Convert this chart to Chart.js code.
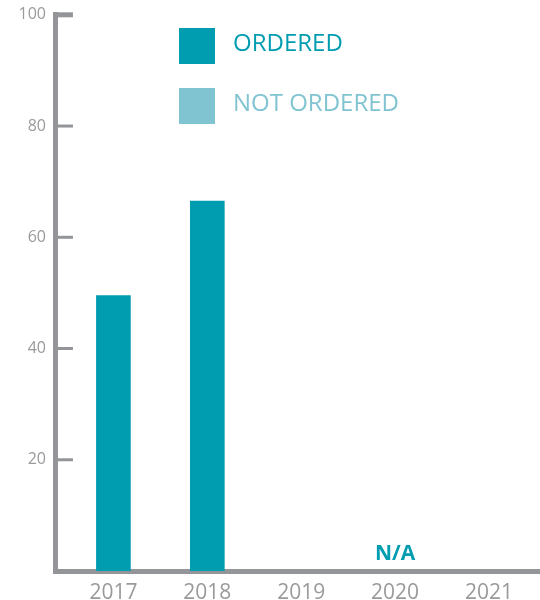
<!DOCTYPE html>
<html>
<head>
<meta charset="utf-8">
<script src="https://cdn.jsdelivr.net/npm/chart.js@4/dist/chart.umd.min.js"></script>
<style>
  html, body { margin: 0; padding: 0; background: #fff; }
  #wrap { position: relative; width: 540px; height: 600px; }
  .legend { position: absolute; left: 179px; font-family: "Open Sans", sans-serif; font-size: 24px; }
  .legend div { display: flex; align-items: center; height: 36px; margin-bottom: 24px; }
  .legend span.box { width: 36px; height: 36px; margin-right: 18px; }
  .legend span.txt { position: relative; top: -5px; }
</style>
</head>
<body>
<div id="wrap">
  <canvas id="chart" width="540" height="600"></canvas>
  <div class="legend" style="top:28px">
    <div style="color:#009db0"><span class="box" style="background:#009db0"></span><span class="txt">ORDERED</span></div>
    <div style="color:#80c4d1"><span class="box" style="background:#80c4d1"></span><span class="txt">NOT ORDERED</span></div>
  </div>
</div>
<script>
const years = [2017, 2018, 2019, 2020, 2021]
const ordered = [49.5, 66.5, null, null, null]
const notOrdered = [null, null, null, null, null]
const notes = [null, null, null, "N/A", null]

const teal = "#009db0"
const light = "#80c4d1"
const axisGray = "#939598"
const labelGray = "#9a9a9a"

// short tick marks pointing into the plot, plus the N/A note
const extras = {
  id: "extras",
  afterDraw(chart) {
    const { ctx, chartArea, scales } = chart
    const y = scales.y
    ctx.save()
    ctx.strokeStyle = axisGray
    y.ticks.forEach((t) => {
      if (t.value === 0) return
      const py = y.getPixelForValue(t.value)
      ctx.lineWidth = t.value === y.max ? 5 : 3
      ctx.beginPath()
      ctx.moveTo(chartArea.left, py)
      ctx.lineTo(chartArea.left + 17, py)
      ctx.stroke()
    })
    ctx.fillStyle = teal
    ctx.font = "bold 21px 'Open Sans'"
    ctx.textAlign = "center"
    ctx.textBaseline = "alphabetic"
    notes.forEach((n, i) => {
      if (!n) return
      ctx.fillText(n, scales.x.getPixelForValue(years[i]), chartArea.bottom - 11.5)
    })
    ctx.restore()
  }
}

new Chart(document.getElementById("chart"), {
  type: "bar",
  data: {
    datasets: [
      { label: "ORDERED", data: years.map((x, i) => ({ x, y: ordered[i] })), backgroundColor: teal },
      { label: "NOT ORDERED", data: years.map((x, i) => ({ x, y: notOrdered[i] })), backgroundColor: light }
    ]
  },
  options: {
    responsive: false,
    animation: false,
    layout: { padding: { left: 8.5, right: 0, top: 11, bottom: 0 } },
    datasets: { bar: { grouped: false, barThickness: 34 } },
    plugins: { legend: { display: false }, tooltip: { enabled: false } },
    scales: {
      x: {
        type: "linear",
        offset: false,
        min: 2016.388,
        max: 2021.543,
        afterFit: (s) => { s.height = 29 },
        grid: { display: false, drawTicks: false, tickLength: 0 },
        border: { display: true, color: axisGray, width: 5 },
        ticks: {
          stepSize: 1,
          includeBounds: false,
          color: labelGray,
          padding: 9,
          font: { family: "Open Sans", size: 21, lineHeight: 1.2 },
          callback: (v) => String(v)
        }
      },
      y: {
        min: 0,
        max: 100,
        grid: { display: false, drawTicks: false, tickLength: 0 },
        border: { display: true, color: axisGray, width: 5 },
        ticks: {
          stepSize: 20,
          color: labelGray,
          padding: 10,
          font: { family: "Open Sans", size: 16, lineHeight: 0.6 },
          callback: (v) => (v === 0 ? "" : v)
        }
      }
    }
  },
  plugins: [extras]
})
</script>
</body>
</html>
